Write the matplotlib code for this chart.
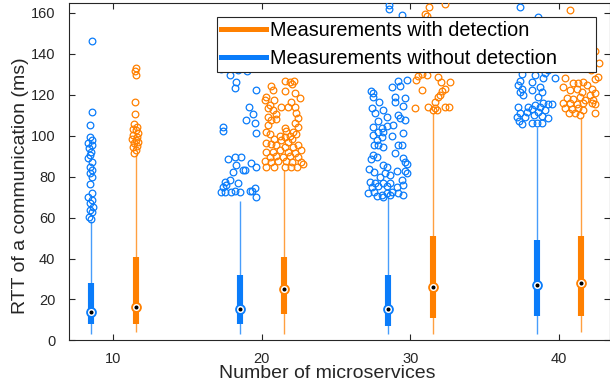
import matplotlib
matplotlib.use("Agg")
import matplotlib.pyplot as plt
from matplotlib.lines import Line2D

plt.rcParams['font.family'] = ['Liberation Sans', 'DejaVu Sans']

BLUE = '#0a7cfa'
ORANGE = '#ff8000'
DARK = '#262626'

n_services = [10, 20, 30, 40]
shift = 1.5  # boxes sit left/right of the tick

# without detection (blue): whisker low, q1, median, q3, whisker high
nodet_wlo = [3.2, 3.2, 3, 3]
nodet_q1 = [8, 8, 7.1, 12]
nodet_med = [14, 15.2, 15.2, 27.1]
nodet_q3 = [27.9, 31.8, 31.8, 48.9]
nodet_whi = [58.5, 68, 70, 104.3]

# with detection (orange)
det_wlo = [4, 3, 3, 4]
det_q1 = [8, 13, 11.1, 12]
det_med = [16.2, 25.1, 26.1, 28.2]
det_q3 = [40.7, 40.8, 51, 51]
det_whi = [91, 83.2, 110.8, 109.2]

# outliers (ms) and the jitter they were drawn with
nodet_out = [
    [146.1, 111.5, 105.3, 99.1, 97.8, 96.5, 95.2, 93.7, 92.1, 90.5, 88.9, 87.2, 84.8,
     83.2, 81.6, 79.9, 76.3, 71.8, 70.2, 68.5, 66.9, 65.3, 63.7, 62.5, 60.4, 59.1],
    [132.5, 132.0, 133.0, 131.5, 129.5, 126.2, 123.3, 122.2, 114.0, 110.3, 107.6, 106.2,
     104.3, 102.3, 101.4, 88.4, 89.7, 89.7, 85.6, 86.4, 84.5, 82.3, 83.2, 83.2, 77.5,
     78.3, 77.0, 75.9, 75.0, 72.3, 72.3, 72.3, 73.1, 72.3, 73.1, 74.2, 70.2, 73.1],
    [163.7, 161.6, 158.8, 126.6, 127.1, 123.5, 124.1, 121.9, 120.9, 118.6, 118.9, 118.1,
     116.5, 116.5, 114.4, 113.3, 112.4, 110.8, 110.0, 109.2, 108.4, 107.6, 107.2, 105.1,
     104.3, 103.5, 104.6, 101.9, 101.9, 101.1, 100.2, 99.8, 99.4, 97.8, 95.4, 95.4, 94.5,
     95.4, 95.4, 91.3, 90.5, 89.7, 88.9, 88.4, 87.2, 86.1, 85.6, 84.8, 83.5, 82.3, 82.9,
     82.9, 81.6, 81.6, 80.7, 79.9, 78.3, 77.5, 77.0, 77.0, 76.7, 75.0, 75.4, 75.4, 75.0,
     75.9, 72.1, 72.6, 71.0, 72.1, 72.6, 72.1, 71.0, 70.2, 71.0, 70.5],
    [162.8, 158.0, 130.0, 129.5, 130.3, 132.0, 127.9, 127.9, 126.7, 126.2, 124.6, 123.5,
     122.5, 121.4, 122.2, 121.4, 119.8, 118.9, 113.8, 114.0, 114.9, 114.0, 115.4, 115.4,
     115.7, 112.8, 111.6, 110.8, 111.6, 112.4, 110.0, 109.5, 108.9, 108.9, 108.4, 107.2,
     106.2, 106.2, 106.2, 105.6],
]
nodet_jit = [
    [0.04, 0.04, -0.1, -0.05, 0.1, -0.2, 0.08, -0.15, 0.0, -0.1, -0.22, 0.05, -0.05,
     0.1, -0.1, 0.05, -0.05, 0.1, -0.2, 0.05, -0.1, 0.12, -0.05, 0.08, -0.12, 0.0],
    [-1.23, -0.11, 0.9, 0.5, -0.67, -0.22, -0.34, 1.12, 0.63, 0.9, 0.45, 1.01,
     -1.12, -1.12, 1.12, -0.79, -0.34, 0.11, -0.22, 0.79, 1.12, -0.45, 0.22, 0.34, -1.01,
     -0.67, -0.11, -0.9, -1.12, -1.23, -0.99, -0.61, -0.29, 0.0, 0.67, 1.01, 1.12, 0.83],
    [0.05, 0.05, 0.91, 0.68, 1.24, 0.24, 0.79, -1.18, -1.04, -1.0, 0.46, 1.13,
     -0.6, 0.46, 1.02, -1.11, -0.33, -0.89, 0.68, -0.1, 0.79, 1.13, -0.67, 0.34,
     -1.04, -0.44, -0.06, -0.67, -0.33, 1.02, -1.0, 0.24, -0.44, -0.77, -0.96, -0.67, -0.33,
     0.68, 0.91, 0.46, -1.0, -0.77, 1.02, -1.18, 1.13, 1.24, -0.33, -0.1, -1.27, -0.96, 0.57,
     1.13, 1.24, -0.22, 0.12, -0.55, 0.91, -1.22, -0.89, -0.33, 0.12, -1.11, -0.67, -0.1, 0.57,
     1.02, -1.34, -0.96, -0.44, -0.1, 0.24, 0.68, 0.98, -0.33, 0.12, -0.73],
    [-1.13, 0.1, -1.02, -0.12, 0.55, 0.77, 1.22, 0.44, -1.13, -0.34, -1.24, 0.22,
     -1.02, -1.13, -0.34, 0.33, -0.91, 0.06, -1.24, -0.57, -0.12, 0.22, 0.77, 1.0,
     0.44, -0.34, -0.68, -1.13, 0.1, 0.55, -0.17, 0.33, -1.35, -0.79, 0.77, -1.2,
     -0.34, 0.0, 0.33, -1.02],
]

det_out = [
    [132.8, 131.5, 129.5, 116.5, 110.3, 105.5, 104.0, 103.2, 102.7, 101.1, 100.3, 99.4,
     98.5, 97.8, 96.9, 96.2, 95.0, 94.2, 93.1, 91.3],
    [126.6, 126.2, 126.6, 125.1, 124.1, 121.7, 122.2, 118.9, 120.9, 118.1, 117.3, 117.3,
     116.5, 114.9, 113.8, 114.0, 114.0, 110.8, 113.3, 112.4, 110.5, 109.2, 108.4, 107.6,
     107.9, 106.2, 104.3, 105.1, 103.5, 102.2, 101.9, 100.7, 101.9, 100.7, 99.8, 99.4,
     99.8, 98.1, 97.8, 97.0, 98.1, 96.2, 95.9, 95.4, 94.5, 94.5, 95.4, 92.9, 92.1, 92.1,
     92.9, 92.1, 91.3, 89.7, 90.0, 89.7, 90.0, 89.7, 87.6, 87.2, 87.7, 87.6, 87.2, 86.9,
     84.8, 84.5, 84.8, 84.5, 84.8, 86.1],
    [164.1, 162.5, 159.3, 158.3, 130.0, 129.5, 129.0, 128.4, 127.1, 126.2, 126.2, 122.2,
     122.5, 121.9, 119.8, 118.6, 116.5, 114.0, 113.3, 112.4, 112.4, 114.0, 114.0, 113.3],
    [161.2, 141.4, 135.4, 132.0, 128.7, 127.9, 125.5, 125.8, 126.2, 127.4, 124.6, 123.5,
     122.2, 122.5, 121.4, 122.5, 120.6, 119.8, 118.1, 117.7, 118.6, 117.3, 117.3, 115.7,
     116.0, 115.4, 115.7, 116.0, 115.4, 113.3, 112.8, 113.3, 112.4, 110.8, 110.0, 111.1,
     110.8],
]
det_jit = [
    [0.05, -0.05, 0.0, -0.05, -0.05, -0.1, 0.1, -0.2, 0.05, 0.15, -0.15, 0.1,
     -0.25, 0.05, 0.18, -0.1, 0.1, -0.15, 0.0, -0.1],
    [0.03, 0.36, 0.65, 0.52, -0.87, 0.03, -0.76, -1.2, 0.7, 1.04, -0.65, -1.27,
     0.48, -0.98, -0.2, 0.25, 0.7, 0.81, -1.1, -0.76, -0.53, -1.1, 0.92, -0.87,
     -0.53, 0.7, 0.92, -1.1, 0.03, 0.14, -1.2, -0.98, 0.59, 0.81, -0.31, 0.03,
     0.36, 0.52, -0.2, 0.25, -0.65, -1.2, -0.87, -0.53, 0.03, 0.59, 0.92, 1.15, -1.2, -0.76,
     -0.31, 0.25, 0.7, -0.98, -0.53, -0.09, 0.36, 0.92, -1.32, -0.87, -0.42, 0.14, 0.52, 1.15,
     -1.2, -0.69, 0.03, 0.43, 0.88, 1.26],
    [0.82, -0.24, -0.52, -0.41, -0.75, -0.37, -0.98, 0.37, -1.13, 0.53, 1.16, -0.75,
     0.82, 0.6, 0.48, 0.37, 0.15, -0.3, -1.2, 0.03, 0.3, 0.82, 1.11, 0.15],
    [-0.77, 0.92, 1.18, 0.65, 1.14, -1.1, -0.55, -0.21, 0.13, 0.92, 0.36, -1.22,
     -0.77, -0.32, 0.02, 0.69, 0.92, 0.58, -0.99, -0.55, -0.09, 0.24, 0.8, -1.22,
     -0.77, -0.32, 0.13, 0.69, 0.92, -1.1, -0.65, -0.21, 0.13, -0.43, -0.09, 0.92,
     -0.83],
]


def compact_boxes(ax, pos, wlo, q1, med, q3, whi, out, jit, color):
    """MATLAB-style compact boxplot: thin whisker, thick box, dotted median."""
    ax.vlines(pos, wlo, whi, color=color, lw=1.0, alpha=0.75, zorder=2)
    ax.vlines(pos, q1, q3, color=color, lw=4.4, capstyle='butt', zorder=3)
    ax.plot(pos, med, 'o', ms=6.4, mfc='white', mec=color, mew=1.3, ls='none', zorder=4)
    ax.plot(pos, med, 'o', ms=1.9, color='black', ls='none', zorder=5)
    for p, vals, offs in zip(pos, out, jit):
        xs = [p + o for o in offs]
        ax.plot(xs, vals, 'o', ms=4.8, mfc='none', mec=color, mew=0.9, ls='none', zorder=3)


fig = plt.figure(figsize=(6.1, 3.85), dpi=100)
ax = fig.add_axes([0.1136, 0.1156, 0.8864, 0.8774])

pos_nodet = [n - shift for n in n_services]
pos_det = [n + shift for n in n_services]
compact_boxes(ax, pos_nodet, nodet_wlo, nodet_q1, nodet_med, nodet_q3, nodet_whi,
              nodet_out, nodet_jit, BLUE)
compact_boxes(ax, pos_det, det_wlo, det_q1, det_med, det_q3, det_whi,
              det_out, det_jit, ORANGE)

ax.set_xlim(7.04, 43.43)
ax.set_ylim(0, 164.8)
ax.set_xticks(n_services)
ax.set_yticks(range(0, 161, 20))
ax.tick_params(direction='in', length=4, width=0.8, colors=DARK, labelsize=10.5,
               top=True, right=True)
ax.tick_params(axis='y', pad=10)
ax.tick_params(axis='x', pad=8)
for sp in ax.spines.values():
    sp.set_color(DARK)
    sp.set_linewidth(0.8)

ax.set_xlabel('Number of microservices', fontsize=14, color=DARK)
ax.set_ylabel('RTT of a communication (ms)', fontsize=14, color=DARK)
ax.xaxis.set_label_coords(0.4766, -0.073)
ax.yaxis.set_label_coords(-0.0745, 0.459)

handles = [Line2D([], [], color=ORANGE, lw=3.6),
           Line2D([], [], color=BLUE, lw=3.6)]
leg = ax.legend(handles, ['Measurements with detection', 'Measurements without detection'],
                loc='upper left', bbox_to_anchor=(0.2726, 0.797, 0.7014, 0.16), mode='expand',
                borderaxespad=0, fontsize=14.3, handlelength=2.3, handletextpad=0.2,
                labelspacing=0.42, borderpad=0.2, fancybox=False, framealpha=1,
                edgecolor=DARK)
leg.get_frame().set_linewidth(0.8)
leg.set_zorder(10)

fig.savefig('out.png', dpi=100)
